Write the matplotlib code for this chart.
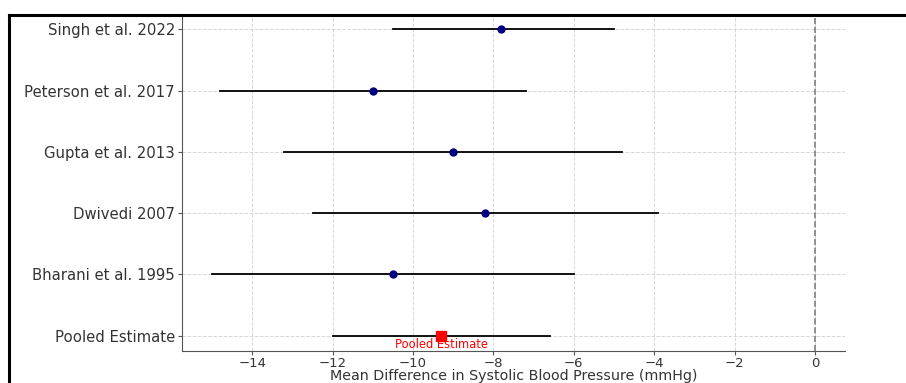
import numpy as np
import matplotlib.pyplot as plt
from matplotlib.lines import Line2D

studies = ['Pooled Estimate', 'Bharani et al. 1995', 'Dwivedi 2007',
           'Gupta et al. 2013', 'Peterson et al. 2017', 'Singh et al. 2022']
means = [-9.3, -10.5, -8.2, -9.0, -11.0, -7.8]
lower = [-12.0, -15.0, -12.5, -13.2, -14.8, -10.5]
upper = [-6.6, -6.0, -3.9, -4.8, -7.2, -5.0]

txt = '#333333'
fig = plt.figure(figsize=(9.06, 3.83), dpi=100)
ax = fig.add_axes([0.2009, 0.0836, 0.7318, 0.8798])

y = np.arange(len(studies))
for i in range(len(studies)):
    ax.plot([lower[i], upper[i]], [y[i], y[i]], color='black', lw=1.3, zorder=2)
    if i == 0:
        ax.plot(means[i], y[i], 's', color='red', markersize=7, zorder=3)
    else:
        ax.plot(means[i], y[i], 'o', color='navy', markersize=5, zorder=3)

ax.axvline(0, color='gray', linestyle='--', lw=1.2, zorder=1)
ax.text(means[0], -0.15, 'Pooled Estimate', color='red', fontsize=8.3,
        ha='center', va='center')

ax.set_yticks(y)
ax.set_yticklabels(studies, fontsize=10.7, color=txt)
ax.tick_params(axis='x', labelsize=9.5, labelcolor=txt, color='#555555',
               length=3, pad=1)
ax.tick_params(axis='y', color='#555555', length=3, pad=2)
ax.set_xlabel('Mean Difference in Systolic Blood Pressure (mmHg)', fontsize=10.3,
              color=txt, va='bottom')
ax.xaxis.set_label_coords(0.5, -0.095)
ax.grid(True, linestyle='--', color='#cccccc', lw=0.7, alpha=0.8)
ax.set_axisbelow(True)
ax.spines['top'].set_visible(False)
ax.spines['right'].set_visible(False)
ax.spines['left'].set_color('#555555')
ax.spines['bottom'].set_color('#555555')
ax.set_ylim(-0.25, 5.25)

# screenshot border
fig.add_artist(Line2D([9 / 906, 1.0], [1 - 15 / 383, 1 - 15 / 383],
                      transform=fig.transFigure, color='black', lw=2.2))
fig.add_artist(Line2D([9 / 906, 9 / 906], [0, 1 - 15 / 383],
                      transform=fig.transFigure, color='black', lw=2.2))

fig.savefig('out.png', dpi=100)
